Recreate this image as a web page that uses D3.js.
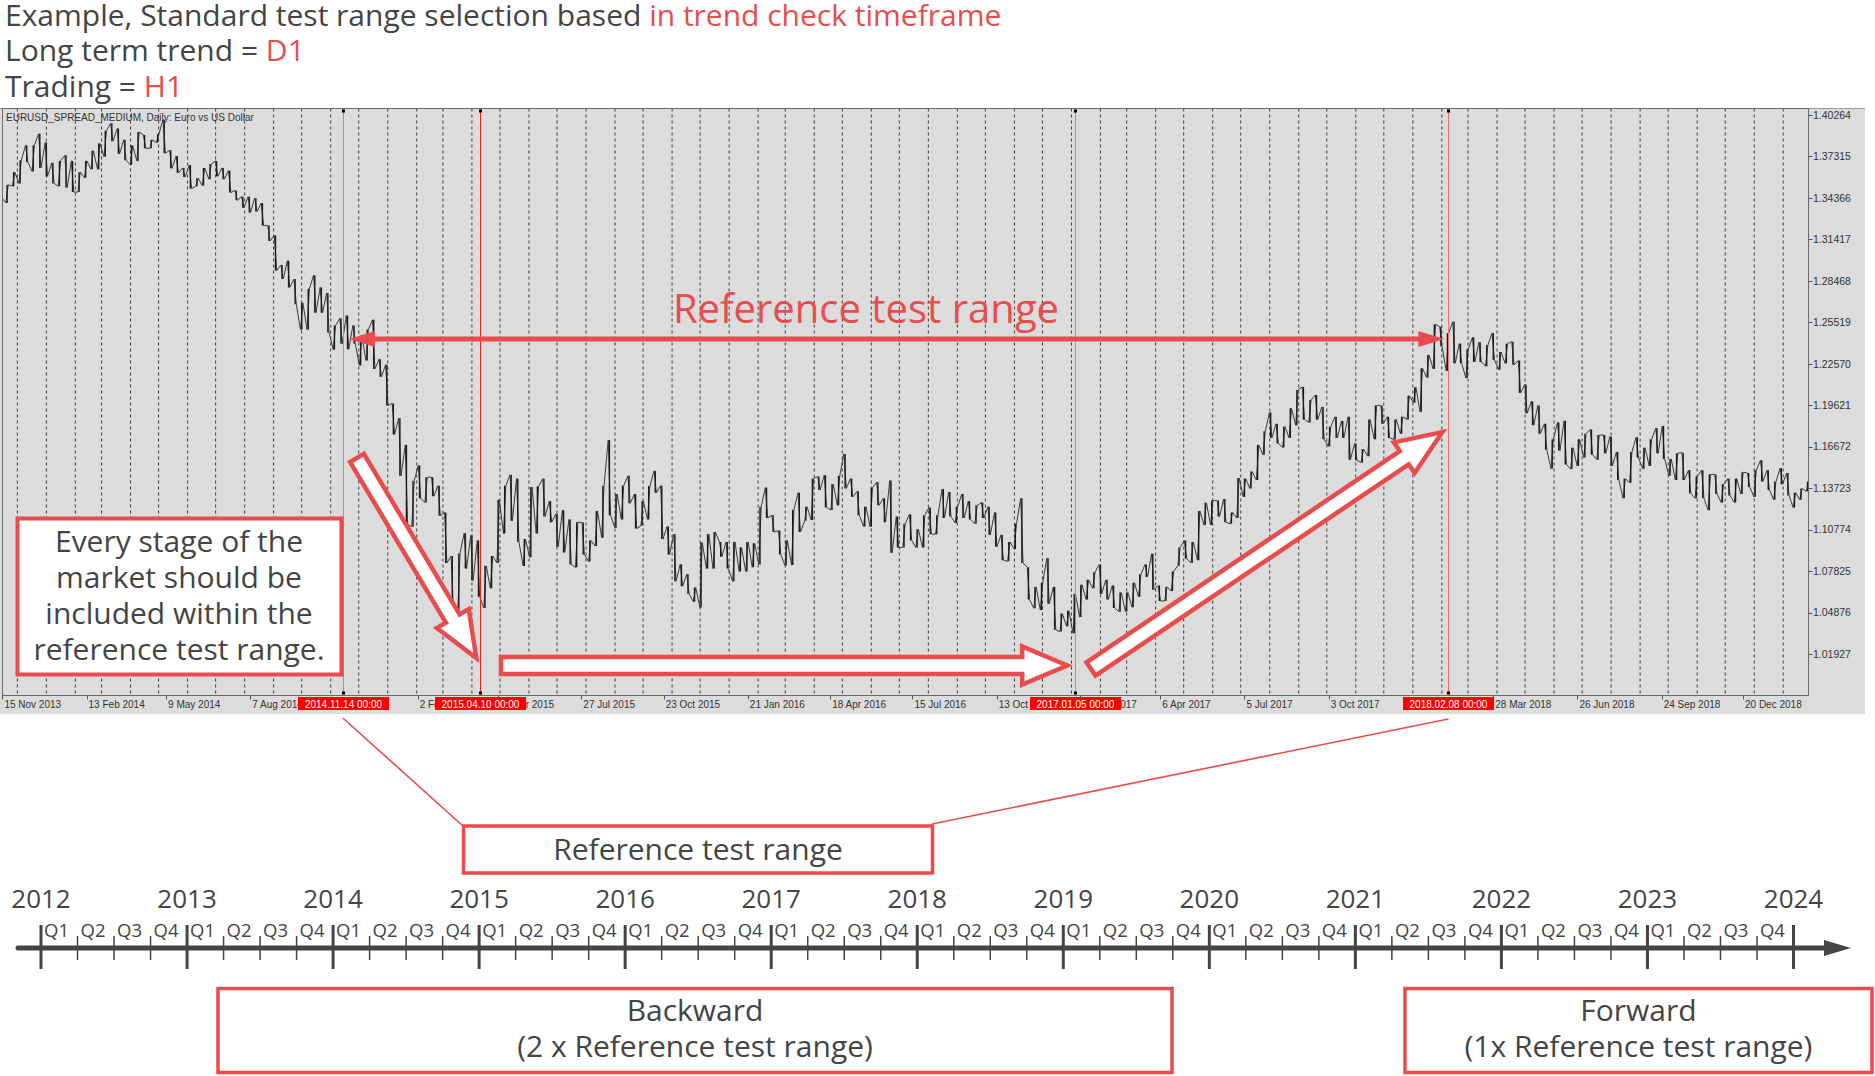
<!DOCTYPE html>
<html><head><meta charset="utf-8">
<script src="https://cdn.jsdelivr.net/npm/d3@7"></script>
<style>body{margin:0;background:#fff}svg{display:block}</style>
</head><body>
<svg id="c" width="1875" height="1076"></svg>
<script>
// ---------------- data ----------------
const weekStart = "2013-11-11"; // Monday of first weekly bar
const weekHigh = [
1.3510,1.3530,1.3620,1.3705,1.3810,1.3812,1.3893,1.3830,
1.3686,1.3700,1.3740,1.3700,1.3620,1.3700,1.3772,1.3824,1.3915,1.3967,1.3930,1.3850,1.3810,1.3905,1.3885,1.3850,1.3890,1.3993,1.3775,1.3734,1.3650,
1.3670,1.3577,1.3650,1.3677,1.3700,1.3650,1.3630,1.3490,1.3445,1.3445,1.3435,1.3400,1.3240,1.3170,1.2960,1.2990,1.2860,1.2690,1.2790,1.2887,1.2800,1.2760,
1.2530,1.2580,1.2600,1.2530,1.2457,1.2500,1.2570,1.2290,1.2250,
1.1975,1.1870,1.1680,1.1425,1.1534,1.1450,1.1450,1.1390,1.1200,1.0890,1.0910,1.1052,1.1035,1.1000,1.0820,1.0890,1.1290,1.1390,1.1467,1.1440,1.1010,
1.1380,1.1385,1.1440,1.1280,1.1190,1.1215,1.1150,1.1130,1.1128,1.1000,1.1210,1.1390,1.1714,1.1330,1.1390,1.1460,1.1330,1.1280,1.1387,1.1495,1.1390,1.1100,
1.1045,1.0830,1.0760,1.0665,1.0985,1.1045,1.1060,1.0990,1.0990,
1.0990,1.0950,1.0990,1.0980,1.1240,1.1376,1.1180,1.1070,1.1000,1.1218,1.1340,1.1240,1.1440,1.1455,1.1465,1.1400,1.1460,1.1616,1.1440,1.1350,1.1240,
1.1375,1.1415,1.1300,1.1427,1.1170,1.1120,1.1185,1.1080,1.1180,1.1235,1.1180,1.1366,1.1345,1.1240,1.1330,1.1280,1.1250,1.1270,1.1240,1.1200,1.1040,1.0990,
1.1120,1.1300,1.0810,1.0670,1.0700,1.0874,1.0670,1.0480,1.0500,
1.0620,1.0685,1.0720,1.0775,1.0829,1.0720,1.0680,1.0630,1.0630,1.0700,1.0760,1.0830,1.0906,1.0680,1.0670,1.0780,1.0950,1.1000,1.0990,1.1210,1.1268,
1.1285,1.1285,1.1295,1.1200,1.1445,1.1440,1.1490,1.1680,1.1777,1.1910,1.1830,1.1810,1.1940,1.2070,1.2092,1.2000,1.2035,1.1950,1.1810,1.1880,1.1850,1.1880,
1.1690,1.1650,1.1860,1.1960,1.1961,1.1880,1.1860,1.1880,1.2030,
1.2090,1.2225,1.2320,1.2537,1.2520,1.2475,1.2556,1.2400,1.2360,1.2445,1.2410,1.2390,1.2476,1.2340,1.2400,1.2414,1.2280,1.2110,1.1990,1.1960,1.1830,
1.1720,1.1840,1.1852,1.1660,1.1720,1.1760,1.1790,1.1750,1.1750,1.1740,1.1630,1.1440,1.1630,1.1734,1.1660,1.1720,1.1800,1.1815,1.1580,1.1620,1.1625,1.1500,
1.1455,1.1500,1.1470,1.1470,1.1400,1.1440,1.1440,1.1486,1.1480,
1.1500,1.1570,1.1500,1.1420,1.1515,1.1480,1.1340,1.1370,1.1420];
const weekLow = [
1.3440,1.3400,1.3520,1.3540,1.3690,1.3625,1.3650,1.3590,
1.3540,1.3520,1.3510,1.3478,1.3478,1.3580,1.3640,1.3640,1.3730,1.3840,1.3750,1.3705,1.3673,1.3700,1.3790,1.3790,1.3830,1.3755,1.3647,1.3615,1.3585,
1.3503,1.3520,1.3525,1.3570,1.3590,1.3570,1.3475,1.3420,1.3367,1.3333,1.3340,1.3240,1.3130,1.2920,1.2860,1.2800,1.2680,1.2500,1.2500,1.2620,1.2620,1.2480,
1.2358,1.2400,1.2360,1.2400,1.2245,1.2280,1.2220,1.2165,1.1960,
1.1754,1.1460,1.1115,1.1098,1.1300,1.1270,1.1315,1.1176,1.0840,1.0495,1.0462,1.0800,1.0715,1.0600,1.0520,1.0660,1.0840,1.1050,1.1140,1.0990,1.0819,
1.0880,1.1050,1.1170,1.1130,1.0955,1.0915,1.0830,1.0809,1.0900,1.0850,1.0960,1.1020,1.1180,1.1090,1.1150,1.1265,1.1085,1.1105,1.1150,1.1340,1.1010,1.0900,
1.0710,1.0675,1.0620,1.0565,1.0524,1.0800,1.0800,1.0885,1.0800,
1.0710,1.0780,1.0780,1.0810,1.0830,1.1160,1.1060,1.0900,1.0822,1.0825,1.1060,1.1140,1.1145,1.1360,1.1235,1.1217,1.1250,1.1370,1.1310,1.1180,1.1100,
1.1098,1.1250,1.1130,1.0912,1.0950,1.0950,1.1000,1.0950,1.0950,1.1045,1.1045,1.1160,1.1170,1.1125,1.1160,1.1150,1.1120,1.1160,1.1040,1.0955,1.0860,1.0852,
1.0940,1.0840,1.0580,1.0518,1.0505,1.0550,1.0365,1.0352,1.0390,
1.0340,1.0455,1.0580,1.0660,1.0620,1.0580,1.0520,1.0494,1.0495,1.0525,1.0600,1.0740,1.0650,1.0570,1.0570,1.0640,1.0820,1.0870,1.0840,1.0860,1.1110,
1.1110,1.1170,1.1130,1.1119,1.1160,1.1310,1.1370,1.1430,1.1610,1.1730,1.1690,1.1662,1.1730,1.1820,1.1860,1.1840,1.1860,1.1720,1.1670,1.1730,1.1730,1.1574,
1.1570,1.1554,1.1600,1.1720,1.1830,1.1730,1.1718,1.1760,1.1860,
1.1980,1.1915,1.2160,1.2220,1.2380,1.2206,1.2260,1.2260,1.2155,1.2270,1.2270,1.2240,1.2285,1.2215,1.2260,1.2250,1.2050,1.1905,1.1820,1.1760,1.1645,
1.1510,1.1640,1.1540,1.1508,1.1530,1.1590,1.1610,1.1575,1.1620,1.1530,1.1430,1.1301,1.1410,1.1590,1.1510,1.1530,1.1620,1.1580,1.1460,1.1430,1.1430,1.1335,
1.1300,1.1300,1.1216,1.1330,1.1270,1.1320,1.1270,1.1330,1.1380,
1.1310,1.1420,1.1360,1.1290,1.1400,1.1320,1.1234,1.1290,1.1350];

const priceTicks = [1.40264,1.37315,1.34366,1.31417,1.28468,1.25519,1.22570,1.19621,1.16672,1.13723,1.10774,1.07825,1.04876,1.01927];
const dateTicks = ["2013-11-15","2014-02-13","2014-05-09","2014-08-07","2015-02-02","2015-04-29","2015-07-27","2015-10-23","2016-01-21","2016-04-18","2016-07-15","2016-10-13","2017-01-10","2017-04-06","2017-07-05","2017-10-03","2018-03-28","2018-06-26","2018-09-24","2018-12-20"];
const markerDates  = ["2014-11-14","2015-04-10","2017-01-05","2018-02-08"];
const markerLabels = ["2014.11.14 00:00","2015.04.10 00:00","2017.01.05 00:00","2018.02.08 00:00"];
const timelineYears = [2012,2013,2014,2015,2016,2017,2018,2019,2020,2021,2022,2023,2024];
const quarterNames = ["Q1","Q2","Q3","Q4"];
const titleLines = [["Example, Standard test range selection based ","in trend check timeframe"],["Long term trend = ","D1"],["Trading = ","H1"]];
const boxText = ["Every stage of the","market should be","included within the","reference test range."];

// ---------------- setup ----------------
const svg = d3.select("#c");
const RED = "#e84c4c", INK = "#444444", FONT = "'Open Sans', sans-serif", MT = "'Liberation Sans', Arial, sans-serif";
const parse = d3.timeParse("%Y-%m-%d");
const fmt = d3.timeFormat("%-d %b %Y");

svg.append("rect").attr("width",1875).attr("height",1076).attr("fill","#fff");

// title
titleLines.forEach((ln,i)=>{
  const t = svg.append("text").attr("x",5).attr("y",25.5+i*35.5)
    .style("font-family",FONT).style("font-size","30px").attr("fill",INK);
  t.append("tspan").text(ln[0]);
  t.append("tspan").attr("fill",RED).text(ln[1]);
});

// ---------------- MT4 chart panel ----------------
const P = {l:2.5, r:1808.5, t:108.5, b:695.5};
svg.append("rect").attr("x",0).attr("y",108).attr("width",1865).attr("height",606).attr("fill","#dcdcdc");
svg.append("line").attr("x1",0).attr("x2",1865).attr("y1",108.5).attr("y2",108.5).attr("stroke","#9a9a9a");

const x = d3.scaleTime().domain([parse("2013-11-15"), parse("2018-12-20")]).range([2.4, 1743]);
const y = d3.scaleLinear().domain([1.01927, 1.40264]).range([654, 115]);

svg.append("clipPath").attr("id","plotclip").append("rect")
  .attr("x",P.l).attr("y",P.t).attr("width",P.r-P.l).attr("height",P.b-P.t);

// monthly separators
const months = d3.timeMonth.range(parse("2013-12-01"), parse("2019-03-02")).filter(d=>x(d)<P.r-1);
svg.append("g").selectAll("line").data(months).join("line")
  .attr("x1",d=>x(d)).attr("x2",d=>x(d)).attr("y1",P.t).attr("y2",P.b)
  .attr("stroke","#3a3a3a").attr("stroke-width",1).attr("stroke-dasharray","3,3");

// weekly bars
const s0 = parse(weekStart);
const weeks = weekHigh.map((h,i)=>({d:d3.timeDay.offset(d3.timeWeek.offset(s0,i),2), h, l:weekLow[i]}));
const gBars = svg.append("g").attr("clip-path","url(#plotclip)");
const zz = [];
weeks.forEach((w,i)=>{
  const nxt = weeks[i+1] || w;
  const up = (nxt.h+nxt.l) >= (w.h+w.l);
  const xx = x(w.d);
  if (up) { zz.push([xx-1.2,y(w.l)]); zz.push([xx+1.2,y(w.h)]); }
  else    { zz.push([xx-1.2,y(w.h)]); zz.push([xx+1.2,y(w.l)]); }
});
gBars.append("path").attr("d",d3.line()(zz)).attr("fill","none").attr("stroke","#3c3c3c").attr("stroke-width",1);
gBars.selectAll("line").data(weeks).join("line")
  .attr("x1",d=>x(d.d)).attr("x2",d=>x(d.d)).attr("y1",d=>y(d.h)).attr("y2",d=>y(d.l))
  .attr("stroke","#1a1a1a").attr("stroke-width",1.4);

// plot frame
svg.append("rect").attr("x",P.l).attr("y",P.t).attr("width",P.r-P.l).attr("height",P.b-P.t)
  .attr("fill","none").attr("stroke","#6a6a6a").attr("stroke-width",1);

// panel title
svg.append("text").attr("x",6).attr("y",120.5).style("font-family",MT).style("font-size","10px")
  .attr("fill","#333").text("EURUSD_SPREAD_MEDIUM, Daily:  Euro vs US Dollar");

// price axis
const ya = svg.append("g");
ya.selectAll("line").data(priceTicks).join("line")
  .attr("x1",P.r).attr("x2",P.r+4).attr("y1",d=>Math.round(y(d))+0.5).attr("y2",d=>Math.round(y(d))+0.5).attr("stroke","#555");
ya.selectAll("text").data(priceTicks).join("text")
  .attr("x",P.r+4.5).attr("y",d=>y(d)+3.8).style("font-family",MT).style("font-size","10.5px").attr("fill","#333")
  .text(d=>d.toFixed(5));

// date axis
const dTicks = dateTicks.map(parse);
const xa = svg.append("g");
xa.selectAll("line").data(dTicks).join("line")
  .attr("x1",d=>Math.round(x(d))+0.5).attr("x2",d=>Math.round(x(d))+0.5).attr("y1",P.b).attr("y2",P.b+4).attr("stroke","#555");
xa.selectAll("text").data(dTicks).join("text")
  .attr("x",d=>x(d)+2).attr("y",708).style("font-family",MT).style("font-size","10px").attr("fill","#333")
  .text(d=>fmt(d));

// marker lines
const mk = markerDates.map((d,i)=>({d:parse(d), label:markerLabels[i], strong:i===1}));
mk.forEach(m=>{
  const xx = Math.round(x(m.d))+0.5;
  svg.append("line").attr("x1",xx).attr("x2",xx).attr("y1",P.t).attr("y2",P.b)
    .attr("stroke", m.strong ? "#ff1a1a" : "#f07272").attr("stroke-width",1);
  svg.append("rect").attr("x",xx-1.5).attr("y",P.t+1).attr("width",3).attr("height",3).attr("fill","#000");
  svg.append("rect").attr("x",xx-1.5).attr("y",P.b-4).attr("width",3).attr("height",3).attr("fill","#000");
  svg.append("rect").attr("x",xx-45.5).attr("y",697).attr("width",91).attr("height",13).attr("fill","#ff0000");
  svg.append("text").attr("x",xx).attr("y",707.5).attr("text-anchor","middle").style("font-family",MT)
    .style("font-size","10px").attr("fill","#fff").text(m.label);
});

// ---------------- annotations ----------------
const xm = mk.map(m=>x(m.d));

const ay = 339, aL = xm[0]+6, aR = xm[3]-4;
svg.append("line").attr("x1",aL+20).attr("x2",aR-20).attr("y1",ay).attr("y2",ay).attr("stroke",RED).attr("stroke-width",5);
svg.append("path").attr("fill",RED).attr("d",`M${aL},${ay} L${aL+26},${ay-8} L${aL+26},${ay+8} Z`);
svg.append("path").attr("fill",RED).attr("d",`M${aR},${ay} L${aR-26},${ay-8} L${aR-26},${ay+8} Z`);
svg.append("text").attr("x",866).attr("y",323).attr("text-anchor","middle").style("font-family",FONT)
  .style("font-size","40px").attr("fill",RED).text("Reference test range");

function blockArrow(x0,y0,x1,y1,hw,hh,hl){
  const dx=x1-x0, dy=y1-y0, L=Math.hypot(dx,dy), ux=dx/L, uy=dy/L, nx=-uy, ny=ux;
  const bx=x1-ux*hl, by=y1-uy*hl;
  const pts=[[x0+nx*hw,y0+ny*hw],[bx+nx*hw,by+ny*hw],[bx+nx*hh,by+ny*hh],[x1,y1],
             [bx-nx*hh,by-ny*hh],[bx-nx*hw,by-ny*hw],[x0-nx*hw,y0-ny*hw]];
  svg.append("path").attr("d",d3.line()(pts)+"Z").attr("fill","#fff").attr("stroke",RED)
    .attr("stroke-width",4.5).attr("stroke-linejoin","miter").attr("stroke-miterlimit",10);
}
blockArrow(357,458, xm[1]-4,658, 8,18.5,46);
blockArrow(501,665.5, xm[2]-8,665.5, 8.5,19,45);
blockArrow(1091,669, xm[3]-6,432, 8,18.5,46);

svg.append("rect").attr("x",17.5).attr("y",518.5).attr("width",324).attr("height",156)
  .attr("fill","#fff").attr("stroke",RED).attr("stroke-width",4);
boxText.forEach((t,i)=>svg.append("text").attr("x",179).attr("y",552+i*36).attr("text-anchor","middle")
  .style("font-family",FONT).style("font-size","30px").attr("fill",INK).text(t));

svg.append("line").attr("x1",xm[0]).attr("y1",718).attr("x2",463).attr("y2",826).attr("stroke",RED).attr("stroke-width",1.6);
svg.append("line").attr("x1",xm[3]).attr("y1",719).attr("x2",932).attr("y2",824).attr("stroke",RED).attr("stroke-width",1.6);
svg.append("rect").attr("x",463.5).attr("y",826).attr("width",469).attr("height",47)
  .attr("fill","#fff").attr("stroke",RED).attr("stroke-width",3.5);
svg.append("text").attr("x",698).attr("y",860).attr("text-anchor","middle").style("font-family",FONT)
  .style("font-size","30px").attr("fill",INK).text("Reference test range");

// ---------------- timeline ----------------
const tl = d3.scaleLinear().domain([2012,2024]).range([41,1793.5]);
const TY = 948;
svg.append("line").attr("x1",18).attr("x2",1828).attr("y1",TY).attr("y2",TY).attr("stroke",INK)
  .attr("stroke-width",5).attr("stroke-linecap","round");
svg.append("path").attr("fill",INK).attr("d",`M1851,${TY} L1824,${TY-8} L1824,${TY+8} Z`);
svg.selectAll("text.yr").data(timelineYears).join("text").attr("class","yr")
  .attr("x",d=>tl(d)).attr("y",908).attr("text-anchor","middle").style("font-family",FONT)
  .style("font-size","26px").attr("fill",INK).text(d=>d);
svg.selectAll("line.maj").data(timelineYears).join("line").attr("class","maj")
  .attr("x1",d=>tl(d)).attr("x2",d=>tl(d)).attr("y1",925).attr("y2",969).attr("stroke",INK).attr("stroke-width",3);
const qs = [];
timelineYears.slice(0,-1).forEach(yr=>quarterNames.forEach((q,i)=>qs.push({v:yr+i/4, q})));
svg.selectAll("line.min").data(qs.filter(d=>d.v%1!==0)).join("line").attr("class","min")
  .attr("x1",d=>tl(d.v)).attr("x2",d=>tl(d.v)).attr("y1",936).attr("y2",960).attr("stroke",INK).attr("stroke-width",1.5);
svg.selectAll("text.q").data(qs).join("text").attr("class","q")
  .attr("x",d=>tl(d.v)+3).attr("y",937).style("font-family",FONT).style("font-size","18.5px").attr("fill",INK).text(d=>d.q);

function box(x0,x1,lines){
  svg.append("rect").attr("x",x0).attr("y",988.5).attr("width",x1-x0).attr("height",84)
    .attr("fill","#fff").attr("stroke",RED).attr("stroke-width",3.5);
  lines.forEach((t,i)=>svg.append("text").attr("x",(x0+x1)/2).attr("y",1021+i*35.5).attr("text-anchor","middle")
    .style("font-family",FONT).style("font-size","30px").attr("fill",INK).text(t));
}
box(218,1172,["Backward","(2 x Reference test range)"]);
box(1405,1872,["Forward","(1x Reference test range)"]);
</script>
</body></html>
